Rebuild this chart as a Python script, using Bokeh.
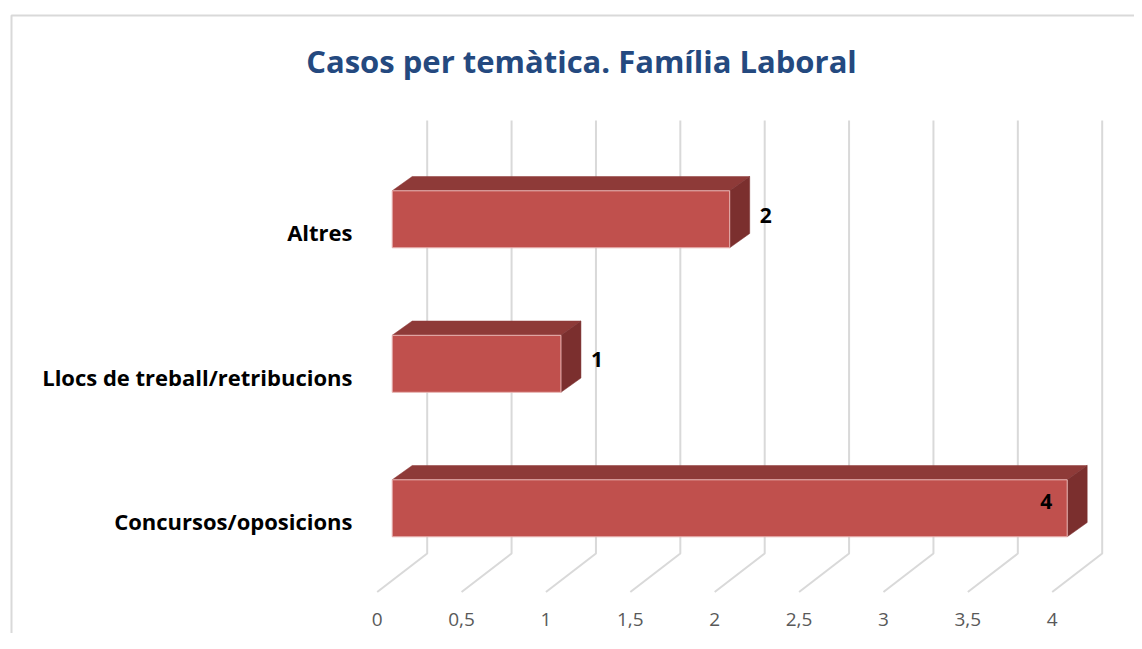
from bokeh.plotting import figure
from bokeh.models import Range1d, ColumnDataSource
from bokeh.core.properties import value
from bokeh.embed import file_html
from bokeh.resources import INLINE

# ---------------- data ----------------
categories = ["Concursos/oposicions", "Llocs de treball/retribucions", "Altres"]
counts = [4, 1, 2]
ticks = [0, 0.5, 1, 1.5, 2, 2.5, 3, 3.5, 4]
tick_labels = ["0", "0,5", "1", "1,5", "2", "2,5", "3", "3,5", "4"]
title_text = "Casos per temàtica. Família Laboral"

# ---------------- layout / style ----------------
W, H = 1134, 633
PX = 168.75   # pixels per value unit
PY = 144.5    # pixels per category step
X0 = 391.7    # canvas x of value 0 (front of bars)
Y0 = 507.8    # canvas y of first category centre

FONT = "Open Sans"
FRONT = "#C0504D"
TOP = "#8E3A38"
SIDE = "#7B2F2E"
GRID = "#D9D9D9"

def cx(px):  # canvas x px -> data
    return (px - X0) / PX

def cy(py):  # canvas y px (from top) -> data
    return (Y0 - py) / PY

HB = 28.5 / PY          # half bar height
DDX = 20 / PX           # bar depth offset x
DDY = 14.3 / PY         # bar depth offset y
GBX = 35 / PX           # back-wall offset x
FLX = -15 / PX          # floor front offset x

n = len(categories)
ypos = list(range(n))

p = figure(width=W, height=H, output_backend="svg", toolbar_location=None,
           x_range=Range1d(cx(0), cx(W)), y_range=Range1d(cy(H), cy(0)),
           x_axis_type=None, y_axis_type=None, min_border=0,
           background_fill_color="white", border_fill_color="white",
           outline_line_color=None)
p.grid.visible = False

# chart area border (light grey, cropped on right and bottom)
p.line([cx(11), cx(11), cx(W + 20)], [cy(H + 20), cy(15), cy(15)],
       line_color="#D9D9D9", line_width=2)

# grid lines: back wall vertical + floor diagonal
grid_top = (n - 1) + 98.7 / PY
grid_bot = 0 - 45.2 / PY
floor_bot = grid_bot - 38.5 / PY
gxs, gys = [], []
for t in ticks:
    gxs.append([t + GBX, t + GBX, t + FLX])
    gys.append([grid_top, grid_bot, floor_bot])
p.multi_line(gxs, gys, line_color=GRID, line_width=2)

# bars (3D)
top_xs, top_ys, side_xs, side_ys = [], [], [], []
for y, v in zip(ypos, counts):
    t, b = y + HB, y - HB
    top_xs.append([0, v, v + DDX, DDX])
    top_ys.append([t, t, t + DDY, t + DDY])
    side_xs.append([v, v, v + DDX, v + DDX])
    side_ys.append([b, t, t + DDY, b + DDY])
p.patches(top_xs, top_ys, fill_color=TOP, line_color=TOP, line_width=0.5)
p.patches(side_xs, side_ys, fill_color=SIDE, line_color=SIDE, line_width=0.5)
src = ColumnDataSource(dict(y=ypos, v=counts, l=[0] * n,
                            b=[y - HB for y in ypos], t=[y + HB for y in ypos]))
p.quad(left="l", right="v", bottom="b", top="t", source=src,
       fill_color=FRONT, line_color="#E8B4B2", line_width=1)

# value labels
vmax = max(counts)
out_x = [v for v in counts if v != vmax]
out_y = [y for y, v in zip(ypos, counts) if v != vmax]
in_x = [v for v in counts if v == vmax]
in_y = [y for y, v in zip(ypos, counts) if v == vmax]
p.text(out_x, out_y, text=[str(v) for v in out_x], x_offset=30, y_offset=-4,
       text_align="left", text_baseline="middle", text_font=value(FONT),
       text_font_style="bold", text_font_size="21px", text_color="black")
p.text(in_x, in_y, text=[str(v) for v in in_x], x_offset=-15, y_offset=-7,
       text_align="right", text_baseline="middle", text_font=value(FONT),
       text_font_style="bold", text_font_size="21px", text_color="black")

# category labels
p.text([cx(352)] * n, ypos, text=categories, y_offset=13,
       text_align="right", text_baseline="middle", text_font=value(FONT),
       text_font_style="bold", text_font_size="22px", text_color="black")

# tick labels (floor front)
p.text(ticks, [cy(619)] * len(ticks), text=tick_labels, x_offset=-15,
       text_align="center", text_baseline="middle", text_font=value(FONT),
       text_font_size="19px", text_color="#595959")

# title
p.text([cx(581)], [cy(60)], text=[title_text], text_align="center",
       text_baseline="middle", text_font=value(FONT), text_font_style="bold",
       text_font_size="31px", text_color="#24497F")

open("out.html", "w").write(file_html(p, INLINE))
